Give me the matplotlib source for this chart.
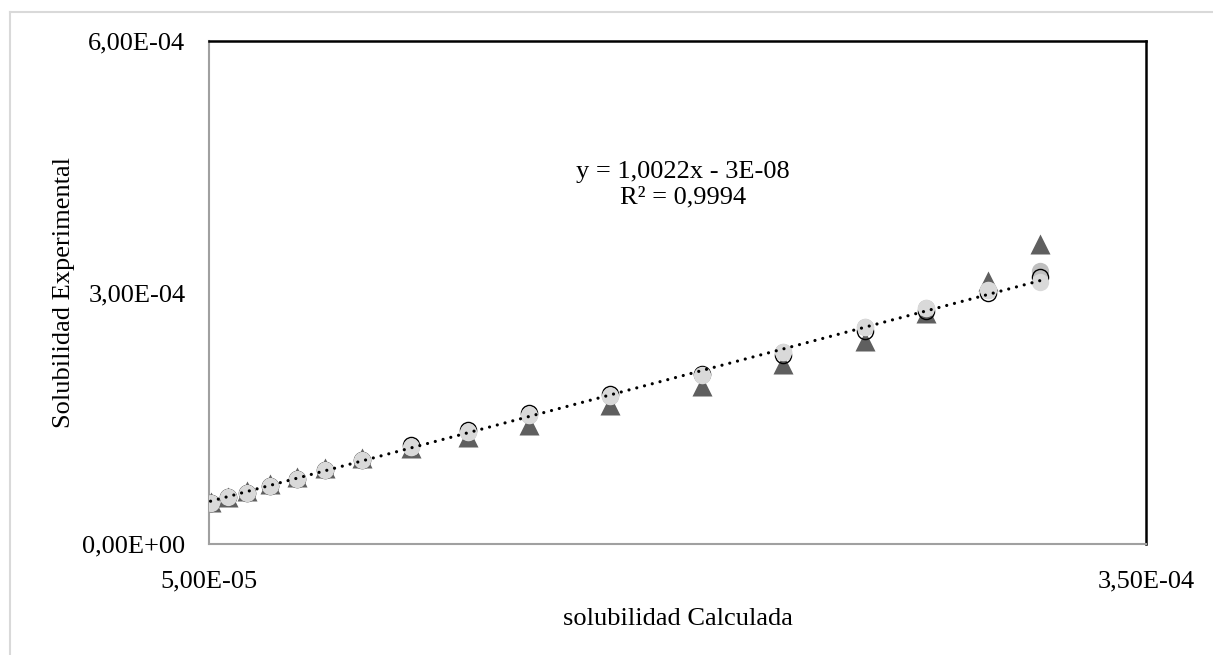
import numpy as np
import matplotlib.pyplot as plt
from matplotlib.lines import Line2D

plt.rcParams['font.family'] = ['Liberation Serif', 'DejaVu Serif']

# solubilidad calculada (eje x)
x_calc = np.array([5.05e-5, 5.62e-5, 6.23e-5, 6.95e-5, 7.83e-5, 8.71e-5, 9.91e-5,
                   1.147e-4, 1.330e-4, 1.525e-4, 1.784e-4, 2.078e-4, 2.337e-4,
                   2.600e-4, 2.796e-4, 2.995e-4, 3.161e-4])

# solubilidad experimental, una serie por modelo
y_triang = np.array([5.01e-5, 5.61e-5, 6.38e-5, 7.10e-5, 8.02e-5, 9.07e-5, 1.020e-4,
                     1.145e-4, 1.276e-4, 1.419e-4, 1.658e-4, 1.885e-4, 2.147e-4,
                     2.421e-4, 2.755e-4, 3.137e-4, 3.578e-4])
y_medio = np.array([4.93e-5, 5.64e-5, 6.12e-5, 6.92e-5, 7.75e-5, 8.83e-5, 1.002e-4,
                    1.153e-4, 1.340e-4, 1.539e-4, 1.765e-4, 2.016e-4, 2.294e-4,
                    2.592e-4, 2.821e-4, 3.030e-4, 3.256e-4])
y_anillo = np.array([4.93e-5, 5.64e-5, 6.12e-5, 6.92e-5, 7.75e-5, 8.83e-5, 1.002e-4,
                     1.177e-4, 1.363e-4, 1.563e-4, 1.789e-4, 2.028e-4, 2.258e-4,
                     2.544e-4, 2.785e-4, 2.994e-4, 3.185e-4])
y_claro = np.array([4.93e-5, 5.64e-5, 6.12e-5, 6.92e-5, 7.75e-5, 8.83e-5, 1.002e-4,
                    1.153e-4, 1.340e-4, 1.539e-4, 1.765e-4, 2.016e-4, 2.294e-4,
                    2.592e-4, 2.821e-4, 3.030e-4, 3.129e-4])

xticks = [5e-5, 3.5e-4]
xlabels = ["5,00E-05", "3,50E-04"]
yticks = [0, 3e-4, 6e-4]
ylabels = ["0,00E+00", "3,00E-04", "6,00E-04"]
ecuacion = "y = 1,0022x - 3E-08\nR² = 0,9994"

fig = plt.figure(figsize=(12.13, 6.55), dpi=100)
ax = fig.add_axes([209/1213, 111/655, 937/1213, 503/655])

# borde exterior del grafico (solo se ve izquierda y arriba)
borde = "#d9d9d9"
fig.lines.append(Line2D([10/1213, 10/1213], [0, 643/655], transform=fig.transFigure,
                        color=borde, linewidth=1.5))
fig.lines.append(Line2D([10/1213, 1], [643/655, 643/655], transform=fig.transFigure,
                        color=borde, linewidth=1.5))

ax.plot(x_calc, y_triang, linestyle="none", marker="^", ms=15,
        color="#5f5f5f", mec="none", zorder=2)
ax.plot(x_calc, y_medio, linestyle="none", marker="o", ms=12.5,
        color="#bfbfbf", mec="none", zorder=3)
ax.plot(x_calc, y_anillo, linestyle="none", marker="o", ms=11.6,
        mfc="none", mec="black", mew=1.0, zorder=4)
ax.plot(x_calc, y_claro, linestyle="none", marker="o", ms=12.5,
        color="#d9d9d9", mec="none", zorder=5)

# linea de tendencia
coef = np.polyfit(x_calc, y_anillo, 1)
xt = np.array([x_calc[0], x_calc[-1]])
ax.plot(xt, np.polyval(coef, xt), color="black", linewidth=2.3,
        linestyle=(0, (0.01, 2.5)), dash_capstyle="round", zorder=6)

ax.text(0.506, 0.715, ecuacion, transform=ax.transAxes, ha="center",
        va="center", fontsize=19, linespacing=1.2)

ax.set_xlim(5e-5, 3.5e-4)
ax.set_ylim(0, 6e-4)
ax.set_xticks(xticks)
ax.set_xticklabels(xlabels)
ax.set_yticks(yticks)
ax.set_yticklabels(ylabels)
ax.tick_params(axis="both", length=0, labelsize=19)
ax.tick_params(axis="x", pad=19)
ax.tick_params(axis="y", pad=17)

ax.spines["left"].set_color("#a0a0a0")
ax.spines["bottom"].set_color("#a0a0a0")
ax.spines["left"].set_linewidth(1.5)
ax.spines["bottom"].set_linewidth(1.5)
ax.spines["top"].set_color("black")
ax.spines["right"].set_color("black")
ax.spines["top"].set_linewidth(1.8)
ax.spines["right"].set_linewidth(1.8)

ax.set_xlabel("solubilidad Calculada", fontsize=19, labelpad=11)
ax.set_ylabel("Solubilidad Experimental", fontsize=19, labelpad=5)

fig.savefig("out.png", dpi=100)
